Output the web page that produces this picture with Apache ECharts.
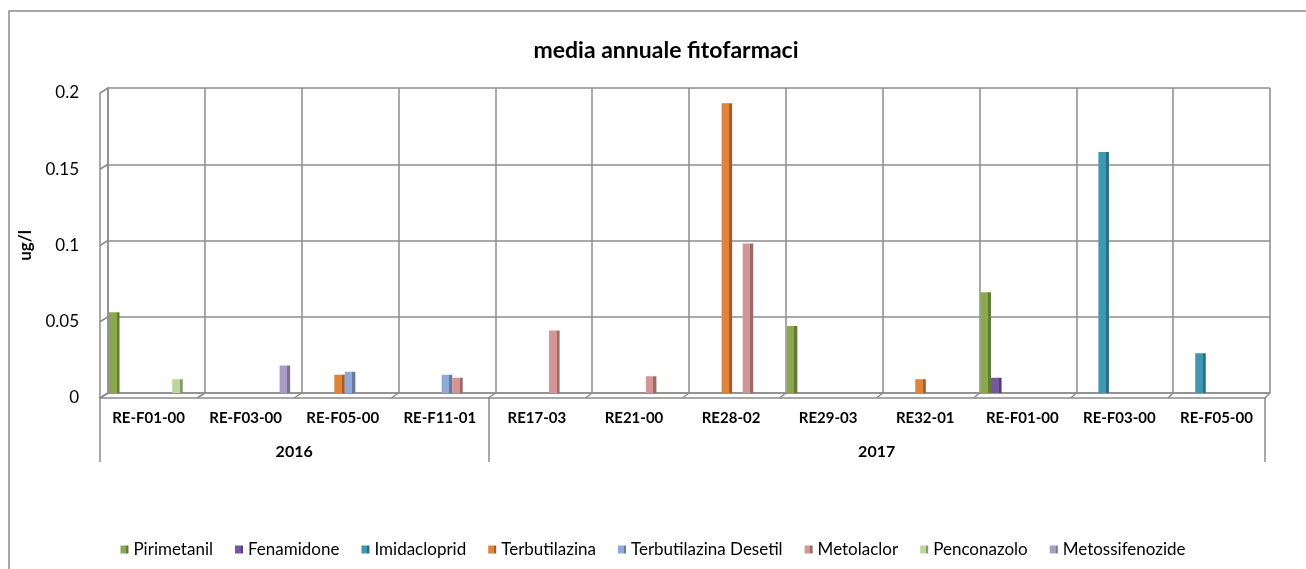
<!DOCTYPE html>
<html>
<head>
<meta charset="utf-8">
<title>media annuale fitofarmaci</title>
<script src="https://cdn.jsdelivr.net/npm/echarts@6/dist/echarts.min.js"></script>
<style>
html,body{margin:0;padding:0;background:#fff}
#main{width:1306px;height:569px}
</style>
</head>
<body>
<div id="main"></div>
<script>
	//dati
	let categorie=['RE-F01-00','RE-F03-00','RE-F05-00','RE-F11-01','RE17-03','RE21-00','RE28-02','RE29-03','RE32-01','RE-F01-00','RE-F03-00','RE-F05-00'];
	let anni=['2016','2017'];
	let gruppi=[4,8]; //quante stazioni per anno
	let yTick=[0,0.05,0.1,0.15,0.2];

	let pirimetanil=[0.053,null,null,null,null,null,null,0.044,null,0.066,null,null];
	let fenamidone=[null,null,null,null,null,null,null,null,null,0.010,null,null];
	let imidacloprid=[null,null,null,null,null,null,null,null,null,null,0.158,0.026];
	let terbutilazina=[null,null,0.012,null,null,null,0.190,null,0.009,null,null,null];
	let terbDesetil=[null,null,0.014,0.012,null,null,null,null,null,null,null,null];
	let metolaclor=[null,null,null,0.010,0.041,0.011,0.098,null,null,null,null,null];
	let penconazolo=[0.009,null,null,null,null,null,null,null,null,null,null,null];
	let metossifenozide=[null,0.018,null,null,null,null,null,null,null,null,null,null];

	let nomi=['Pirimetanil','Fenamidone','Imidacloprid','Terbutilazina','Terbutilazina Desetil','Metolaclor','Penconazolo','Metossifenozide'];
	let valori=[pirimetanil,fenamidone,imidacloprid,terbutilazina,terbDesetil,metolaclor,penconazolo,metossifenozide];
	let colori=['#8AA94E','#7459A0','#3F98B2','#E0843C','#8FAAD8','#D49595','#BDD49B','#AA9CC6'];

	//fondo (dietro) e fronte della scatola 3d
	let dietro={left:108,right:36,top:88,bottom:176};
	let fronte={left:100,right:41,top:93,bottom:171};
	let font='Lato, "Noto Sans", sans-serif';
	let grigio='#8c8c8c';

	//colore piu scuro per il lato della barra
	function scuro(c,k){
		let n=parseInt(c.slice(1),16);
		let r=Math.round((n>>16&255)*k),g=Math.round((n>>8&255)*k),b=Math.round((n&255)*k);
		return 'rgb('+r+','+g+','+b+')';
	}

	//asse degli anni: punti ai confini dei gruppi
	let puntiAnni=[];
	for(let i=0;i<=categorie.length;i++){puntiAnni.push('');}
	let confini=[0];
	let k=0;
	gruppi.forEach(function(n,i){
		puntiAnni[k+n/2]=anni[i];
		k+=n;
		confini.push(k);
	});

	let serie=valori.map(function(v,i){
		return {
			name:nomi[i],
			type:'bar',
			xAxisIndex:0,
			yAxisIndex:0,
			barGap:'0%',
			barCategoryGap:'2%',
			data:v,
			itemStyle:{
				color:new echarts.graphic.LinearGradient(0,0,1,0,[
					{offset:0,color:colori[i]},
					{offset:0.72,color:colori[i]},
					{offset:0.72,color:scuro(colori[i],0.72)},
					{offset:1,color:scuro(colori[i],0.72)}
				])
			}
		};
	});
	//serie vuota per spostare le barre a sinistra come nel 3d di excel
	serie.push({name:'vuota',type:'bar',xAxisIndex:0,yAxisIndex:0,barGap:'0%',barCategoryGap:'2%',data:[],silent:true});

	var myChart=echarts.init(document.getElementById('main'));
	myChart.setOption({
		backgroundColor:'#fff',
		animation:false,
		title:{
			text:'media annuale fitofarmaci',
			left:661,
			top:34,
			textAlign:'center',
			textStyle:{fontFamily:font,fontSize:23,fontWeight:'bold',color:'#000'}
		},
		legend:{
			data:nomi,
			left:'center',
			top:536,
			itemWidth:8,
			itemHeight:8,
			itemGap:22,
			icon:'rect',
			textStyle:{fontFamily:font,fontSize:17,color:'#000'}
		},
		grid:[
			{left:dietro.left,right:dietro.right,top:dietro.top,bottom:dietro.bottom},
			{left:fronte.left,right:fronte.right,top:fronte.top,bottom:fronte.bottom}
		],
		xAxis:[
			{
				gridIndex:0,type:'category',data:categorie,
				axisLine:{show:true,lineStyle:{color:grigio,width:1.5}},
				axisTick:{show:false},axisLabel:{show:false},
				splitLine:{show:true,interval:0,lineStyle:{color:grigio,width:1.5}}
			},
			{
				gridIndex:1,type:'category',data:categorie,position:'bottom',offset:0,
				axisLine:{show:true,lineStyle:{color:grigio,width:1.5}},
				axisTick:{show:false},
				axisLabel:{interval:0,margin:13,fontFamily:font,fontSize:15,fontWeight:'bold',color:'#000'}
			},
			{
				gridIndex:1,type:'category',data:puntiAnni,boundaryGap:false,position:'bottom',offset:0,
				axisLine:{show:false},
				axisTick:{show:true,length:64,interval:function(i){return confini.indexOf(i)>=0;},lineStyle:{color:grigio,width:1.5}},
				axisLabel:{interval:function(i,v){return v!=='';},margin:46,fontFamily:font,fontSize:16,fontWeight:'bold',color:'#000'}
			}
		],
		yAxis:[
			{
				gridIndex:0,type:'value',min:0,max:0.2,interval:0.05,
				axisLine:{show:true,lineStyle:{color:grigio,width:1.5}},
				axisTick:{show:false},axisLabel:{show:false},
				splitLine:{show:true,lineStyle:{color:grigio,width:1.5}}
			},
			{
				gridIndex:1,type:'value',min:0,max:0.2,interval:0.05,
				name:'ug/l',nameLocation:'middle',nameGap:62,nameRotate:90,
				nameTextStyle:{fontFamily:font,fontSize:17,fontWeight:'bold',color:'#000'},
				axisLine:{show:true,lineStyle:{color:grigio,width:1.5}},
				axisTick:{show:false},
				splitLine:{show:false},
				axisLabel:{margin:21,fontFamily:font,fontSize:17,color:'#000',
					customValues:yTick,
					formatter:function(v){return String(v);}}
			}
		],
		series:serie
	});

	//diagonali del pavimento e della parete sinistra, calcolate dagli assi
	let linee=[{type:'rect',shape:{x:9,y:11,width:1320,height:600},style:{fill:'none',stroke:'#8a8a8a',lineWidth:1.5},silent:true}];
	let lb=1306-dietro.left-dietro.right, lf=1306-fronte.left-fronte.right;
	let yb0=569-dietro.bottom, yf0=569-fronte.bottom;
	for(let i=0;i<=categorie.length;i++){
		linee.push({type:'line',silent:true,
			shape:{x1:fronte.left+lf*i/categorie.length,y1:yf0,x2:dietro.left+lb*i/categorie.length,y2:yb0},
			style:{stroke:grigio,lineWidth:1.5}});
	}
	yTick.forEach(function(v){
		let pb=myChart.convertToPixel({yAxisIndex:0},v);
		let pf=myChart.convertToPixel({yAxisIndex:1},v);
		linee.push({type:'line',silent:true,
			shape:{x1:fronte.left,y1:pf,x2:dietro.left,y2:pb},
			style:{stroke:grigio,lineWidth:1.5}});
	});
	myChart.setOption({graphic:linee});
</script>
</body>
</html>
